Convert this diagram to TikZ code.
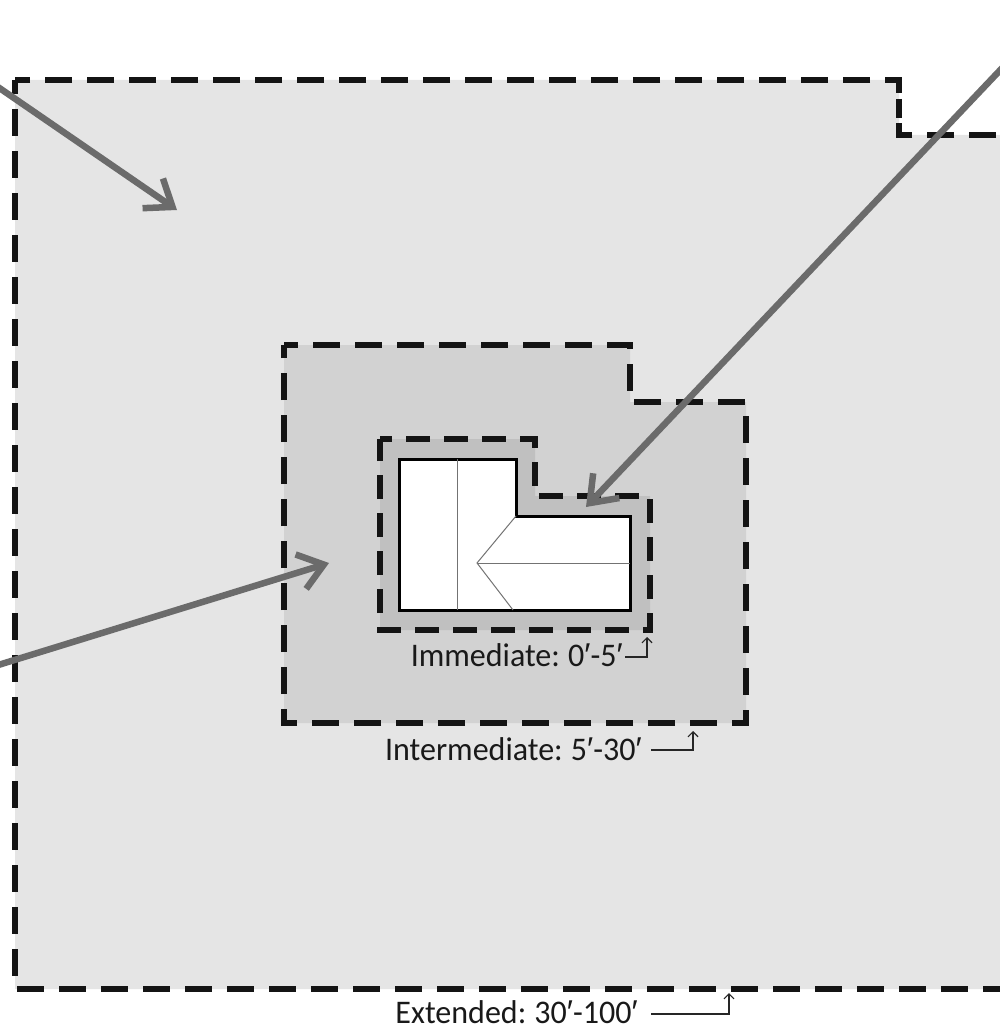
\documentclass[tikz,border=0pt]{standalone}
\usepackage{fontspec}
\setmainfont[FakeStretch=0.97,WordSpace=0.8]{Carlito}
\newfontfamily\primefont{Liberation Sans}
\newcommand{\ft}{{\primefont ′}}
\usetikzlibrary{arrows.meta,positioning,calc}
\definecolor{zoneA}{HTML}{E5E5E5}
\definecolor{zoneB}{HTML}{D2D2D2}
\definecolor{zoneC}{HTML}{C0C0C0}
\definecolor{pointer}{HTML}{6B6B6B}
\tikzset{
  zone/.style   = {draw=black!92, line width=6pt, dash pattern=on 27pt off 15pt, dash phase=13pt},
  zonein/.style = {draw=black!92, line width=6pt, dash pattern=on 24pt off 14pt, dash phase=12pt},
  roof/.style   = {draw=black!55, line width=1pt},
  lab/.style    = {font=\fontsize{33}{35}\selectfont, inner sep=0pt, anchor=base east, text=black!90},
  arr/.style    = {-{Straight Barb[length=24pt,width=36pt]}, draw=pointer, line width=6.5pt},
  tag/.style    = {-{Straight Barb[length=5pt,width=10pt]}, draw=black!85, line width=1.2pt},
}
\begin{document}
\begin{tikzpicture}[x=1pt,y=-1pt]
  \useasboundingbox (0,0) rectangle (1000,1030);
  % zones
  \fill[zoneA] (15,80) -- (899,80) -- (899,135) -- (1000,135) -- (1000,989) -- (15,989) -- cycle;
  \draw[zone, dash phase=33pt] (1005,135) -- (899,135) -- (899,123);
  \draw[zone, dash phase=0pt] (899,99) -- (899,118);
  \draw[zone, dash phase=0pt] (899,93) -- (899,80) -- (15,80);
  \draw[zone] (15,80) -- (15,989) -- (1005,989);
  \filldraw[zoneB, zone] (284,345) -- (630,345) -- (630,402) -- (746,402) -- (746,723) -- (284,723) -- cycle;
  \filldraw[zoneC, zonein] (380,439) -- (535,439) -- (535,496) -- (650,496) -- (650,630) -- (380,630) -- cycle;
  % house
  \filldraw[fill=white, draw=black, line width=3pt] (399,459) -- (516,459) -- (516,516) -- (630,516) -- (630,610) -- (399,610) -- cycle;
  \draw[roof] (457,459) -- (457,610);
  \draw[roof] (516,516) -- (477,563) -- (513,610);
  \draw[roof] (477,563) -- (630,563);
  % pointers
  \coordinate (a1) at (-5,85);
  \coordinate (a2) at (177,210);
  \coordinate (b1) at (1005,65);
  \coordinate (b2) at (586,507);
  \coordinate (c1) at (-5,666);
  \coordinate (c2) at (329,563);
  \draw[arr] (a1) -- (a2);
  \draw[arr] (b1) -- (b2);
  \draw[arr] (c1) -- (c2);
  % labels
  \node[lab] (imm) at (623,666) {Immediate: 0\ft-5\ft};
  \node[lab] (int) at (642,760) {Intermediate: 5\ft-30\ft};
  \node[lab] (ext) at (638,1023) {Extended: 30\ft-100\ft};
  \coordinate (immtip) at (647,637);
  \coordinate (inttip) at (693,731);
  \coordinate (exttip) at (729,993);
  \coordinate (immend) at (625,657);
  \coordinate (intend) at (651,750);
  \coordinate (extend) at (651,1014);
  \draw[tag] (immend) -| (immtip);
  \draw[tag] (intend) -| (inttip);
  \draw[tag] (extend) -| (exttip);
\end{tikzpicture}
\end{document}
